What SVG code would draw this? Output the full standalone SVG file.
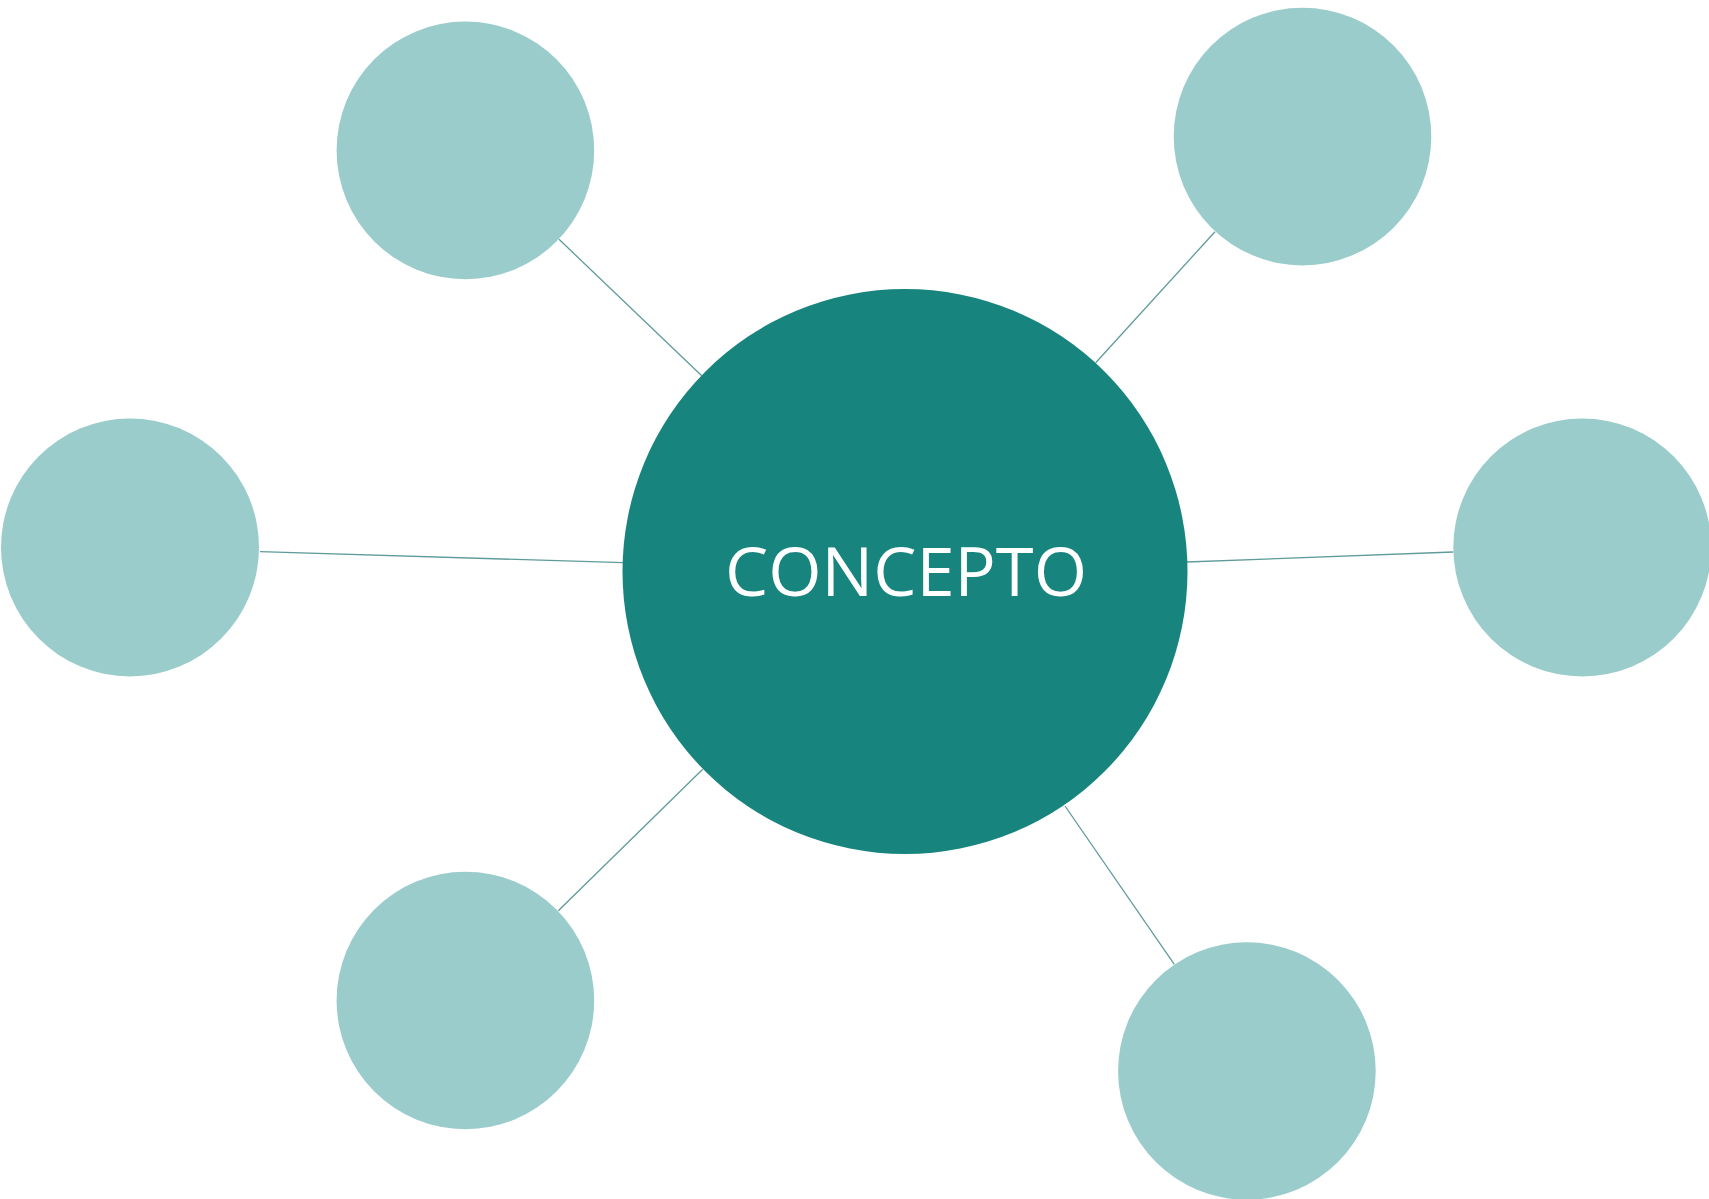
<svg xmlns="http://www.w3.org/2000/svg" width="1709" height="1199" viewBox="0 0 1709 1199">
<style>
.sat{fill:#9bcccc}
.main{fill:#18847e}
.conn line{stroke:#5f9b9b;stroke-width:1.3;fill:none}
.lbl{font-family:"Open Sans","Liberation Sans",sans-serif;font-size:68px;fill:#ffffff;text-anchor:middle}
</style>
<rect width="1709" height="1199" fill="#ffffff"/>
<g class="conn" id="connectors">
<line x1="559" y1="239.3" x2="701.7" y2="375.7"/>
<line x1="1215" y1="231.7" x2="1095.7" y2="362.7"/>
<line x1="260" y1="551.7" x2="623.3" y2="562.7"/>
<line x1="1186.7" y1="562" x2="1453.3" y2="552"/>
<line x1="702.7" y1="769.3" x2="558.3" y2="910.7"/>
<line x1="1065" y1="806" x2="1174.3" y2="964.3"/>
</g>
<g id="node-top-left"><circle class="sat" cx="465.4" cy="150.4" r="128.8"/></g>
<g id="node-top-right"><circle class="sat" cx="1302.5" cy="136.6" r="128.8"/></g>
<g id="node-left"><circle class="sat" cx="130" cy="547.4" r="129"/></g>
<g id="node-right"><circle class="sat" cx="1582.3" cy="547.5" r="129"/></g>
<g id="node-bottom-left"><circle class="sat" cx="465.4" cy="1000.5" r="128.8"/></g>
<g id="node-bottom-right"><circle class="sat" cx="1246.9" cy="1071" r="128.8"/></g>
<g id="node-center">
<circle class="main" cx="905" cy="571.5" r="282.5"/>
<text class="lbl" x="906" y="596" textLength="362" lengthAdjust="spacingAndGlyphs">CONCEPTO</text>
</g>
</svg>
